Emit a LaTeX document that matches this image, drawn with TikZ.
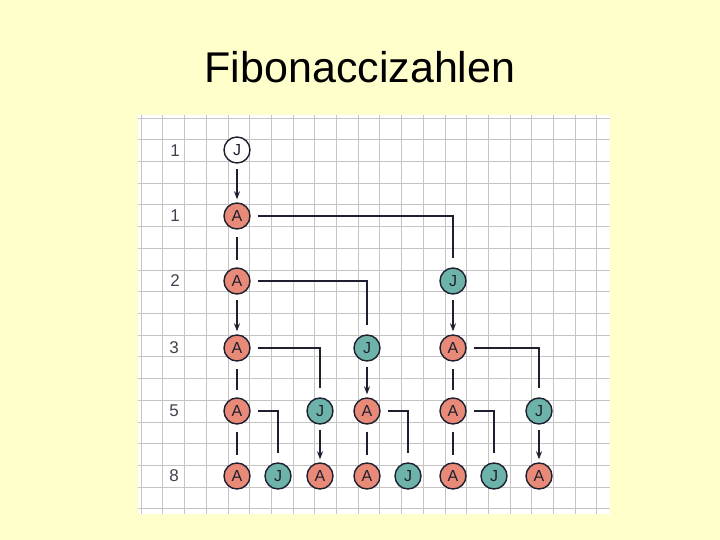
\documentclass[tikz,border=0pt]{standalone}
\usepackage{fontspec}
\setmainfont{Liberation Sans}
\usetikzlibrary{arrows.meta}
\definecolor{bgyellow}{HTML}{FFFFCC}
\definecolor{gridgrey}{HTML}{C4C4C4}
\definecolor{salmon}{HTML}{E98A78}
\definecolor{tealc}{HTML}{6DB3A9}
\definecolor{ink}{HTML}{1E2030}
\tikzset{
  rab/.style={circle, draw=ink, line width=1.4pt, minimum size=26pt, inner sep=0pt, text=ink, font=\fontsize{16}{16}\selectfont},
  alt/.style={rab, fill=salmon},
  jung/.style={rab, fill=tealc},
  jwhite/.style={rab, fill=white},
  conn/.style={draw=ink, line width=1.3pt},
  arr/.style={conn, -{Stealth[length=8pt,width=6pt]}, shorten <=5pt, shorten >=3pt},
  vline/.style={conn, shorten <=7pt, shorten >=7pt},
  elbow/.style={conn, shorten <=7pt, shorten >=9pt},
  rowlab/.style={font=\fontsize{17}{17}\selectfont, text=ink!85}
}
\begin{document}
\begin{tikzpicture}[x=1pt,y=-1pt]
\useasboundingbox (0,0) rectangle (720,540);
\fill[bgyellow] (0,0) rectangle (720,540);
\node[font=\fontsize{43}{43}\selectfont, anchor=base] (title) at (360,83) {Fibonaccizahlen};
% paper
\fill[white] (138,115) rectangle (610,514);
\foreach \k in {0,...,21} \draw[gridgrey, line width=0.6pt] ({141+21.7*\k},115) -- ({141+21.7*\k},514);
\foreach \k in {0,...,18} \draw[gridgrey, line width=0.6pt] (138,{118+21.7*\k}) -- (610,{118+21.7*\k});
% row labels
\node[rowlab] (l1) at (175,151) {1};
\node[rowlab] (l2) at (175,216) {1};
\node[rowlab] (l3) at (175,281) {2};
\node[rowlab] (l4) at (174,348) {3};
\node[rowlab] (l5) at (174,411) {5};
\node[rowlab] (l6) at (174,476) {8};
% nodes
\node[jwhite] (j1) at (237,150) {J};
\node[alt] (a2) at (237,216) {A};
\node[alt] (a3) at (237,281) {A};
\node[jung] (j3) at (453,281) {J};
\node[alt] (a4) at (237,348) {A};
\node[jung] (j4) at (367,348) {J};
\node[alt] (b4) at (453,348) {A};
\node[alt] (a5) at (237,411) {A};
\node[jung] (j5) at (320,411) {J};
\node[alt] (b5) at (367,411) {A};
\node[alt] (c5) at (453,411) {A};
\node[jung] (k5) at (539,411) {J};
\node[alt] (a6) at (237,476) {A};
\node[jung] (j6) at (278,476) {J};
\node[alt] (b6) at (320,476) {A};
\node[alt] (c6) at (367,476) {A};
\node[jung] (k6) at (408,476) {J};
\node[alt] (d6) at (453,476) {A};
\node[jung] (m6) at (494,476) {J};
\node[alt] (e6) at (539,476) {A};
% arrows (young -> adult, and new adults)
\draw[arr] (j1) -- (a2);
\draw[arr] (a3) -- (a4);
\draw[arr] (j3) -- (b4);
\draw[arr] (j4) -- (b5);
\draw[arr] (j5) -- (b6);
\draw[arr] (k5) -- (e6);
% plain vertical lines
\draw[vline] (a2) -- (a3);
\draw[vline] (a4) -- (a5);
\draw[vline] (b4) -- (c5);
\draw[vline] (a5) -- (a6);
\draw[vline] (b5) -- (c6);
\draw[vline] (c5) -- (d6);
% elbows (births)
\draw[elbow] (a2.east) -| (j3.north);
\draw[elbow] (a3.east) -| (j4.north);
\draw[elbow] (a4.east) -| (j5.north);
\draw[elbow] (b4.east) -| (k5.north);
\draw[elbow] (a5.east) -| (j6.north);
\draw[elbow] (b5.east) -| (k6.north);
\draw[elbow] (c5.east) -| (m6.north);
\end{tikzpicture}
\end{document}
